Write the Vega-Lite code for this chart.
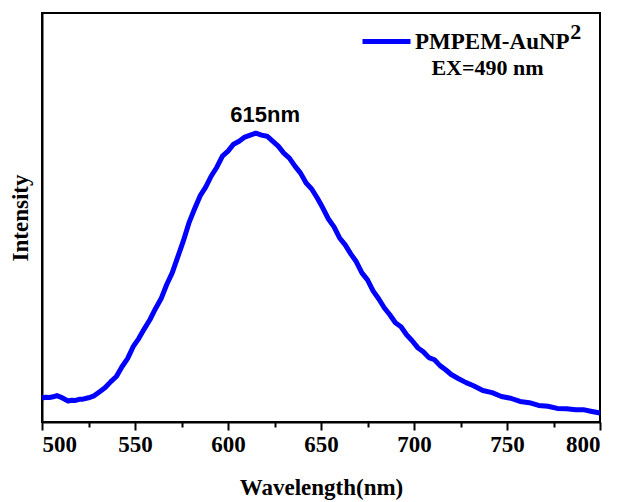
{
  "$schema": "https://vega.github.io/schema/vega-lite/v6.json",
  "width": 558,
  "height": 409,
  "autosize": {"type": "none"},
  "padding": {"left": 42, "top": 13, "right": 20, "bottom": 80},
  "background": "white",
  "config": {
    "view": {"stroke": "black", "strokeWidth": 2},
    "font": "Liberation Serif"
  },
  "datasets": {
    "spectrum": [
      {"wl": 500, "intensity": 24}, {"wl": 502, "intensity": 24.8}, {"wl": 504, "intensity": 24.6},
      {"wl": 506, "intensity": 25.3}, {"wl": 508, "intensity": 26.5}, {"wl": 510, "intensity": 25},
      {"wl": 512, "intensity": 23}, {"wl": 514, "intensity": 21}, {"wl": 516, "intensity": 21.8},
      {"wl": 518, "intensity": 21.6}, {"wl": 520, "intensity": 22.7}, {"wl": 522, "intensity": 22.9},
      {"wl": 525, "intensity": 24.3}, {"wl": 528, "intensity": 26.2}, {"wl": 531, "intensity": 30.4},
      {"wl": 534, "intensity": 34.6}, {"wl": 537, "intensity": 40.5}, {"wl": 540, "intensity": 45.6},
      {"wl": 543, "intensity": 55.4}, {"wl": 546, "intensity": 63.5}, {"wl": 549, "intensity": 75.5},
      {"wl": 552, "intensity": 83.6}, {"wl": 555, "intensity": 93.4}, {"wl": 558, "intensity": 102.5},
      {"wl": 561, "intensity": 113.6}, {"wl": 564, "intensity": 123.5}, {"wl": 567, "intensity": 137.6},
      {"wl": 570, "intensity": 149.5}, {"wl": 573, "intensity": 165.5}, {"wl": 576, "intensity": 181.5},
      {"wl": 579, "intensity": 199.6}, {"wl": 582, "intensity": 213.5}, {"wl": 585, "intensity": 226.6},
      {"wl": 588, "intensity": 235.4}, {"wl": 591, "intensity": 246.6}, {"wl": 594, "intensity": 255.4},
      {"wl": 597, "intensity": 266.5}, {"wl": 600, "intensity": 271.6}, {"wl": 603, "intensity": 278.5},
      {"wl": 606, "intensity": 281.5}, {"wl": 609, "intensity": 285.6}, {"wl": 612, "intensity": 287.5},
      {"wl": 615, "intensity": 289.5}, {"wl": 618, "intensity": 287.6}, {"wl": 621, "intensity": 286.5},
      {"wl": 624, "intensity": 281.6}, {"wl": 627, "intensity": 276.5}, {"wl": 630, "intensity": 269.5},
      {"wl": 633, "intensity": 264.5}, {"wl": 636, "intensity": 256.5}, {"wl": 639, "intensity": 249.5},
      {"wl": 642, "intensity": 239.5}, {"wl": 645, "intensity": 233.6}, {"wl": 648, "intensity": 224.5},
      {"wl": 651, "intensity": 214.5}, {"wl": 654, "intensity": 203.5}, {"wl": 657, "intensity": 195.6},
      {"wl": 660, "intensity": 184.5}, {"wl": 663, "intensity": 177.5}, {"wl": 666, "intensity": 168.5},
      {"wl": 669, "intensity": 160.6}, {"wl": 672, "intensity": 149.5}, {"wl": 675, "intensity": 142.5},
      {"wl": 678, "intensity": 131.5}, {"wl": 681, "intensity": 123.5}, {"wl": 684, "intensity": 114.5},
      {"wl": 687, "intensity": 107.5}, {"wl": 690, "intensity": 99.5}, {"wl": 693, "intensity": 95.5},
      {"wl": 696, "intensity": 87.5}, {"wl": 699, "intensity": 81.5}, {"wl": 702, "intensity": 74.5},
      {"wl": 705, "intensity": 70.5}, {"wl": 708, "intensity": 64.5}, {"wl": 711, "intensity": 62.4},
      {"wl": 714, "intensity": 56.5}, {"wl": 717, "intensity": 52.4}, {"wl": 720, "intensity": 47.6},
      {"wl": 724, "intensity": 43.4}, {"wl": 728, "intensity": 39.5}, {"wl": 732, "intensity": 36.4},
      {"wl": 737, "intensity": 31.6}, {"wl": 742, "intensity": 29.4}, {"wl": 747, "intensity": 25.6},
      {"wl": 752, "intensity": 23.8}, {"wl": 757, "intensity": 20.6}, {"wl": 762, "intensity": 19.4},
      {"wl": 767, "intensity": 16.6}, {"wl": 772, "intensity": 15.8}, {"wl": 777, "intensity": 13.6},
      {"wl": 782, "intensity": 13.2}, {"wl": 787, "intensity": 12.2}, {"wl": 791, "intensity": 12.4},
      {"wl": 795, "intensity": 10.8}, {"wl": 800, "intensity": 9}
    ]
  },
  "resolve": {"axis": {"x": "independent"}},
  "layer": [
    {
      "data": {"name": "spectrum"},
      "mark": {"type": "line", "strokeWidth": 5, "strokeJoin": "round"},
      "encoding": {
        "x": {
          "field": "wl", "type": "quantitative",
          "scale": {"domain": [500, 800], "nice": false, "zero": false},
          "axis": {
            "orient": "bottom",
            "values": [500, 550, 600, 650, 700, 750, 800],
            "title": "Wavelength(nm)",
            "titleFont": "Liberation Serif", "titleFontSize": 23, "titleFontWeight": "bold",
            "titleColor": "black", "titlePadding": 20,
            "labelFont": "Liberation Serif", "labelFontSize": 23, "labelFontWeight": "bold",
            "labelColor": "black", "labelPadding": 3,
            "tickSize": 8, "tickWidth": 2, "tickColor": "black",
            "domainColor": "black", "domainWidth": 2, "grid": false
          }
        },
        "y": {
          "field": "intensity", "type": "quantitative",
          "scale": {"domain": [0, 410], "nice": false},
          "axis": {
            "title": "Intensity", "labels": false, "ticks": false, "grid": false,
            "titleFont": "Liberation Serif", "titleFontSize": 23, "titleFontWeight": "bold",
            "titleColor": "black", "titlePadding": 10,
            "domainColor": "black", "domainWidth": 2
          }
        },
        "color": {
          "datum": "PMPEM-AuNP",
          "scale": {"range": ["#0000ff"]},
          "legend": {
            "title": null, "orient": "none", "legendX": 318, "legendY": 2,
            "symbolType": "stroke", "symbolSize": 2304, "symbolStrokeWidth": 5,
            "labelFont": "Liberation Serif", "labelFontSize": 23, "labelFontWeight": "bold",
            "labelColor": "black", "labelOffset": 2, "padding": 0, "labelLimit": 300
          }
        }
      }
    },
    {
      "data": {"values": [{"wl": 525}, {"wl": 575}, {"wl": 625}, {"wl": 675}, {"wl": 725}, {"wl": 775}]},
      "mark": {"type": "point", "opacity": 0},
      "encoding": {
        "x": {
          "field": "wl", "type": "quantitative",
          "scale": {"domain": [500, 800], "nice": false, "zero": false},
          "axis": {
            "orient": "bottom", "values": [525, 575, 625, 675, 725, 775],
            "labels": false, "title": null, "grid": false, "domain": false,
            "tickSize": 5, "tickWidth": 2, "tickColor": "black"
          }
        },
        "y": {"datum": 200, "type": "quantitative"}
      }
    },
    {
      "data": {"values": [{"wl": 620, "intensity": 308, "label": "615nm"}]},
      "mark": {"type": "text", "font": "Liberation Sans", "fontSize": 22, "fontWeight": "bold", "color": "black", "baseline": "middle"},
      "encoding": {
        "x": {"field": "wl", "type": "quantitative", "axis": null},
        "y": {"field": "intensity", "type": "quantitative"},
        "text": {"field": "label"}
      }
    },
    {
      "data": {"values": [{"wl": 787, "intensity": 391, "label": "2"}, {"wl": 739.5, "intensity": 354.5, "label": "EX=490 nm"}]},
      "mark": {"type": "text", "font": "Liberation Serif", "fontSize": 22, "fontWeight": "bold", "color": "black", "baseline": "middle"},
      "encoding": {
        "x": {"field": "wl", "type": "quantitative", "axis": null},
        "y": {"field": "intensity", "type": "quantitative"},
        "text": {"field": "label"}
      }
    }
  ]
}
